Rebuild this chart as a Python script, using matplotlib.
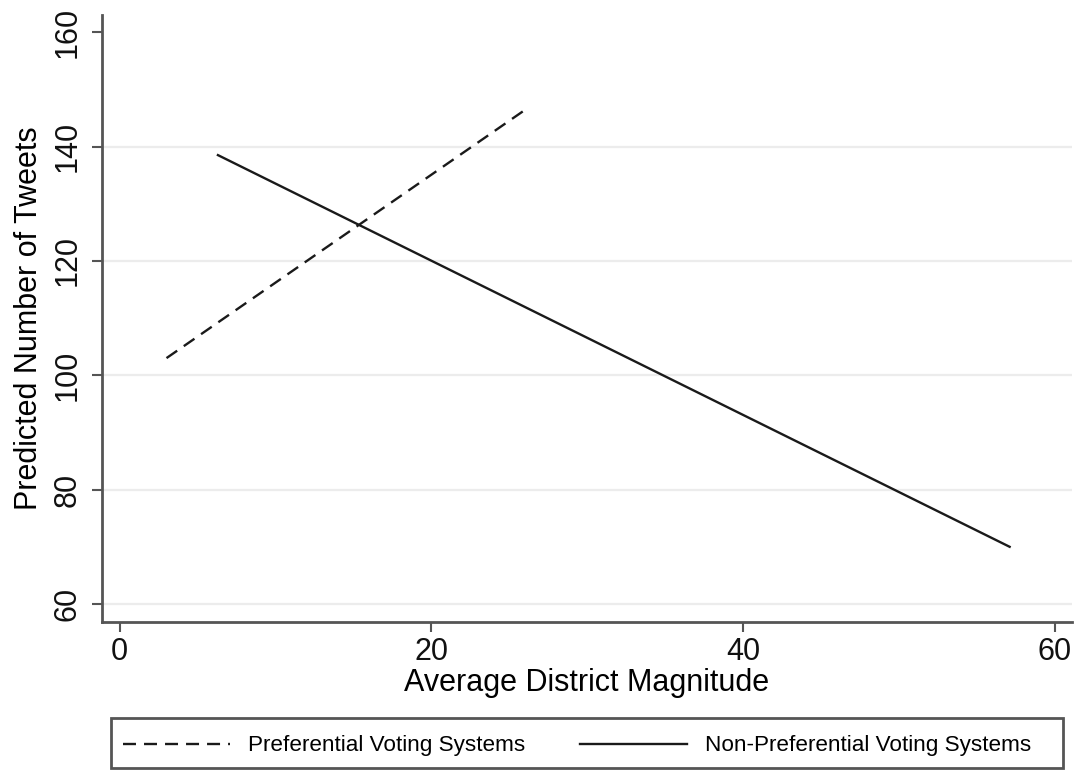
import matplotlib
matplotlib.use('Agg')
import matplotlib.pyplot as plt
from matplotlib.patches import Rectangle

plt.rcParams['font.family'] = ['Liberation Sans', 'DejaVu Sans']

# predicted tweets by average district magnitude
pref_x = [3.0, 26.0]
pref_y = [103.0, 146.4]
nonpref_x = [6.3, 57.1]
nonpref_y = [138.5, 70.0]
yticks = [60, 80, 100, 120, 140, 160]
xticks = [0, 20, 40, 60]

W, H = 1078, 770
fig = plt.figure(figsize=(W / 100, H / 100), dpi=100)
ax = fig.add_axes([0.0946, 0.1926, 0.8998, 0.7879])

dash = (0, (5.5, 3.4))
ax.plot(pref_x, pref_y, color='#1a1a1a', lw=1.7, ls=dash,
        label='Preferential Voting Systems')
ax.plot(nonpref_x, nonpref_y, color='#1a1a1a', lw=1.7,
        label='Non-Preferential Voting Systems')

ax.set_xlim(-1.14, 61.1)
ax.set_ylim(56.9, 163.0)
ax.set_xticks(xticks)
ax.set_yticks(yticks)
ax.tick_params(axis='both', labelsize=22, length=7, width=1.5,
               color='#555555', labelcolor='#111111', direction='out')
ax.tick_params(axis='x', pad=4)
ax.tick_params(axis='y', labelrotation=90, pad=7)
for lab in ax.get_yticklabels():
    lab.set_va('center')

for s in ['top', 'right']:
    ax.spines[s].set_visible(False)
for s in ['left', 'bottom']:
    ax.spines[s].set_color('#555555')
    ax.spines[s].set_linewidth(2)

ax.yaxis.grid(True, color='#ececec', lw=1.6)
ax.set_axisbelow(True)
ax.yaxis.get_gridlines()[-1].set_visible(False)

ax.set_xlabel('Average District Magnitude', fontsize=22, labelpad=1)
ax.set_ylabel('Predicted Number of Tweets', fontsize=22, labelpad=6)

# legend box drawn separately, legend entries placed inside it
fig.patches.append(Rectangle((111 / W, 2 / H), 952 / W, 50 / H,
                             transform=fig.transFigure, fill=False,
                             edgecolor='#555555', lw=2))
leg = fig.legend(loc='center left', ncol=2, bbox_to_anchor=(123 / W, 24 / H),
                 fontsize=16.2, handlelength=4.75, handletextpad=0.8,
                 columnspacing=2.45, frameon=False, borderpad=0,
                 borderaxespad=0)

fig.savefig('out.png', dpi=100)
